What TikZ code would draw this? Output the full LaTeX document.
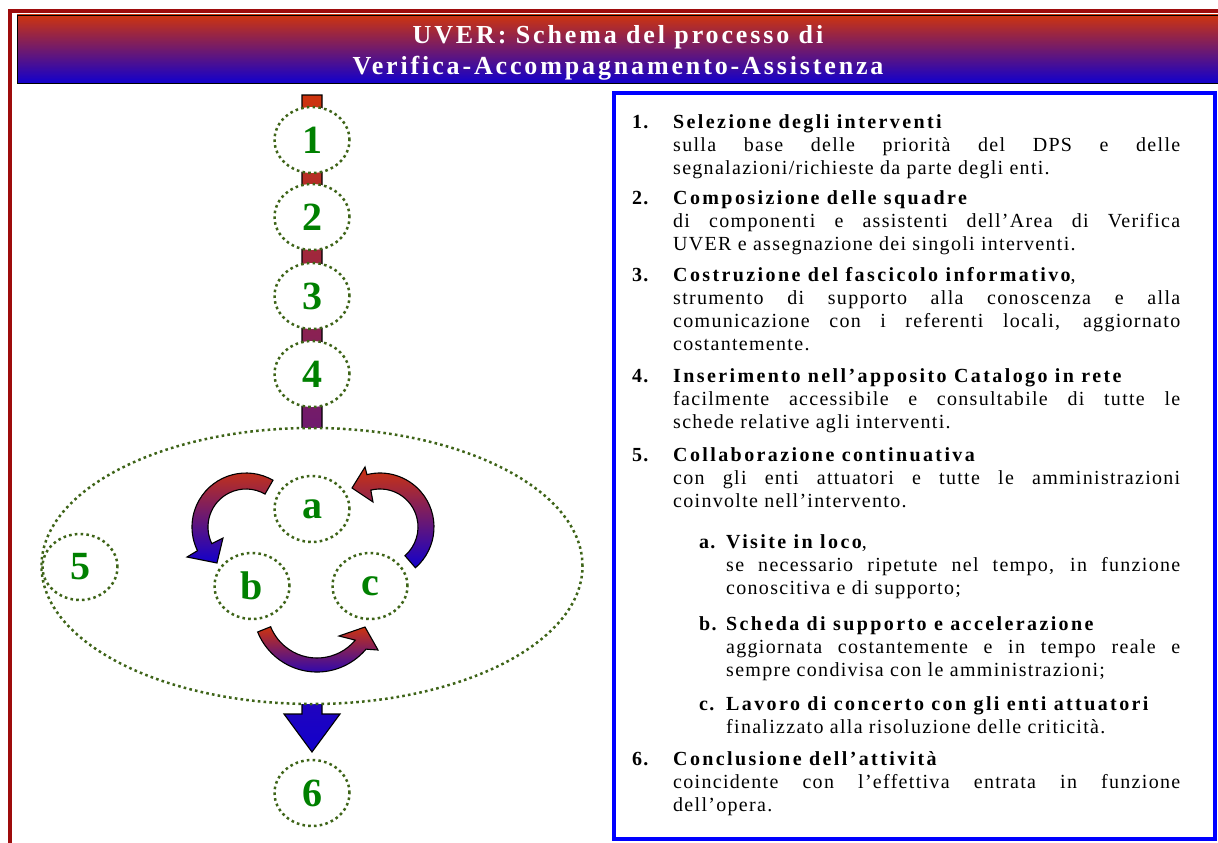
\documentclass[tikz,border=0pt]{standalone}
\usepackage{fontspec}
\setmainfont{Liberation Serif}
\usetikzlibrary{calc}
\usetikzlibrary{shapes.geometric}
\usetikzlibrary{positioning}
\definecolor{framered}{RGB}{158, 12, 12}
\definecolor{topred}{RGB}{206, 52, 14}
\definecolor{midpurple}{RGB}{140, 36, 148}
\definecolor{botblue}{RGB}{18, 0, 204}
\definecolor{dotgreen}{RGB}{62, 100, 24}
\definecolor{digitgreen}{RGB}{0, 128, 0}
\definecolor{boxblue}{RGB}{0, 0, 255}
\newcommand{\listfont}{\fontsize{20}{23.3}\selectfont\addfontfeature{LetterSpace=6.5}}
\newcommand{\itemhead}[1]{{\bfseries\addfontfeature{LetterSpace=12}#1}}
\newcommand{\digitfont}{\fontsize{40}{40}\selectfont\bfseries}
\newcommand{\titlefont}{\fontsize{26}{31}\selectfont\bfseries\addfontfeature{LetterSpace=11}}

\tikzset{
  stage/.style={ellipse, draw=dotgreen, fill=white, line width=2.5pt,
    dash pattern=on 2.6pt off 3.2pt, minimum width=75pt, minimum height=66pt,
    inner sep=0pt, text=digitgreen, font=\digitfont},
  gradfill/.style={top color=topred, middle color=midpurple, bottom color=botblue,
    draw=black, line width=1.1pt},
  itemnum/.style={anchor=base west, inner sep=0pt, font=\listfont\bfseries},
  itembody/.style={anchor=base west, inner sep=0pt, text width=507pt,
    align=justify, font=\listfont},
  subbody/.style={itembody, text width=454pt},
}

\begin{document}
\begin{tikzpicture}[x=1pt, y=-1pt]
  \useasboundingbox (0,0) rectangle (1218,843);
  % frame and title bar
  \draw[framered, line width=4pt] (10,843) -- (10,11) -- (1218,11);
  \shade[gradfill, line width=0.6pt] (17,15) rectangle (1222,83);
  \node[text=white, align=center, font=\titlefont] (title) at (618,53)
    {UVER: Schema del processo di\\Verifica-Accompagnamento-Assistenza};

  % main flow bar with its arrow
  \coordinate (bartop) at (312,95);
  \coordinate (flowtip) at (312,752);
  \shade[gradfill] ($(bartop)+(-10,0)$) -- ($(bartop)+(10,0)$)
    -- ($(flowtip)+(10,-38)$) -- ($(flowtip)+(28,-38)$) -- (flowtip)
    -- ($(flowtip)+(-28,-38)$) -- ($(flowtip)+(-10,-38)$) -- cycle;

  % phases
  \node[stage, minimum width=541pt, minimum height=276pt] (loop) at (312,566) {};
  \node[stage] (s1) at (312,140) {1};
  \node[stage] (s2) at (312,217) {2};
  \node[stage] (s3) at (312,296) {3};
  \node[stage] (s4) at (312,374) {4};
  \node[stage] (s5) at (80,567) {5};
  \node[stage] (s6) at (312,793) {6};
  \node[stage] (sa) at (312,509) {a};
  \node[stage] (sb) at (252,586) {b};
  \node[stage] (sc) at (370,586) {c};

  % curved arrows of the cycle
  \coordinate (ctrab) at (246,527);
  \coordinate (ctrca) at (380,527);
  \coordinate (ctrbc) at (317,608);
  \shade[gradfill] ($(ctrab)+(-60:54)$) arc[start angle=-60, end angle=-206, radius=54]
    -- (187,557) -- (217,563) -- (223,538)
    -- ($(ctrab)+(-206:38)$) arc[start angle=-206, end angle=-60, radius=38] -- cycle;
  \shade[gradfill] ($(ctrca)+(49:54)$) arc[start angle=49, end angle=-104, radius=54]
    -- (365,467) -- (352,488) -- (373,502)
    -- ($(ctrca)+(-104:38)$) arc[start angle=-104, end angle=49, radius=38] -- cycle;
  \shade[gradfill] ($(ctrbc)+(-202:64)$) arc[start angle=-202, end angle=-320, radius=64]
    -- (378,650) -- (365,627) -- (339,636)
    -- ($(ctrbc)+(-320:50)$) arc[start angle=-320, end angle=-202, radius=50] -- cycle;

  % description box
  \node[draw=boxblue, line width=3.5pt, minimum width=601pt, minimum height=746pt,
    inner sep=0pt, anchor=north west] (legend) at (612,91) {};

  \node[itemnum] (n1) at (632,128) {1.};
  \node[itembody] (t1) at (673,128) {\itemhead{Selezione degli interventi}\\
    sulla base delle priorità del DPS e delle\linebreak
    segnalazioni/richieste da parte degli enti.};
  \node[itemnum] (n2) at (632,204) {2.};
  \node[itembody] (t2) at (673,204) {\itemhead{Composizione delle squadre}\\
    di componenti e assistenti dell'Area di Verifica\linebreak
    UVER e assegnazione dei singoli interventi.};
  \node[itemnum] (n3) at (632,281) {3.};
  \node[itembody] (t3) at (673,281) {\itemhead{Costruzione del fascicolo informativo},\\
    strumento di supporto alla conoscenza e alla\linebreak
    comunicazione con i referenti locali, aggiornato\linebreak
    costantemente.};
  \node[itemnum] (n4) at (632,382) {4.};
  \node[itembody] (t4) at (673,382) {\itemhead{Inserimento nell'apposito Catalogo in rete}\\
    facilmente accessibile e consultabile di tutte le\linebreak
    schede relative agli interventi.};
  \node[itemnum] (n5) at (632,461) {5.};
  \node[itembody] (t5) at (673,461) {\itemhead{Collaborazione continuativa}\\
    con gli enti attuatori e tutte le amministrazioni\linebreak
    coinvolte nell'intervento.};
  \node[itemnum] (na) at (699,548) {a.};
  \node[subbody] (ta) at (726,548) {\itemhead{Visite in loco},\\
    se necessario ripetute nel tempo, in funzione\linebreak
    conoscitiva e di supporto;};
  \node[itemnum] (nb) at (699,630) {b.};
  \node[subbody] (tb) at (726,630) {\itemhead{Scheda di supporto e accelerazione}\\
    aggiornata costantemente e in tempo reale e\linebreak
    sempre condivisa con le amministrazioni;};
  \node[itemnum] (nc) at (699,710) {c.};
  \node[subbody] (tc) at (726,710) {\itemhead{Lavoro di concerto con gli enti attuatori}\\
    finalizzato alla risoluzione delle criticità.};
  \node[itemnum] (n6) at (632,765) {6.};
  \node[itembody] (t6) at (673,765) {\itemhead{Conclusione dell'attività}\\
    coincidente con l'effettiva entrata in funzione\linebreak
    dell'opera.};
\end{tikzpicture}
\end{document}
